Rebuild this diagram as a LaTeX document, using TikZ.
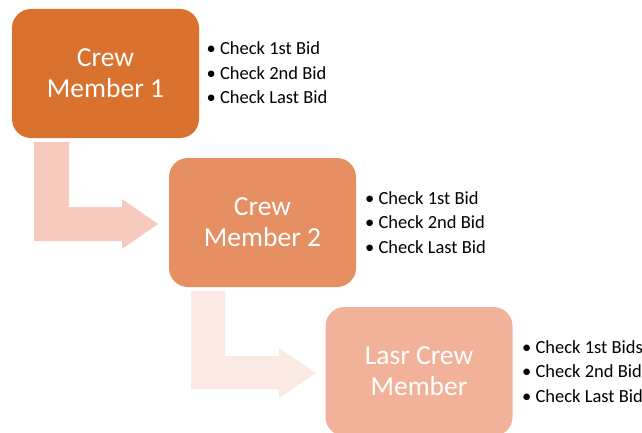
\documentclass[tikz,border=0pt]{standalone}
\usepackage{fontspec}
\setmainfont{Carlito}
\definecolor{stepA}{HTML}{D9722F}
\definecolor{stepB}{HTML}{E68F62}
\definecolor{stepC}{HTML}{F2B29A}
\definecolor{flowA}{HTML}{F6CBBD}
\definecolor{flowB}{HTML}{FBE9E3}
\tikzset{
  member/.style={rounded corners=19pt, minimum width=187pt, minimum height=129pt,
    inner sep=0pt, align=center, text=white,
    font=\fontsize{27.5}{31}\selectfont},
  checklist/.style={anchor=west, inner sep=0pt, align=left,
    font=\fontsize{18.5}{24.5}\selectfont},
}
\begin{document}
\begin{tikzpicture}[x=1pt,y=-1pt]
\useasboundingbox (0,0) rectangle (642,433);

% bent arrows between the stages
\fill[flowA] (34,142) -- (69,142) -- (69,207) -- (122,207) -- (122,199)
  -- (158,224) -- (122,249) -- (122,241) -- (34,241) -- cycle;
\fill[flowB] (191,291) -- (225,291) -- (225,356) -- (279,356) -- (279,348)
  -- (316,373) -- (279,398) -- (279,389) -- (191,389) -- cycle;

% stage boxes
\node[member, fill=stepA] (m1) at (105.5,73.5) {Crew\\Member 1};
\node[member, fill=stepB] (m2) at (262.5,222.5) {Crew\\Member 2};
\node[member, fill=stepC] (m3) at (419,371.5) {Lasr Crew\\Member};

% checklists beside each box
\node[checklist] (c1) at (206.5,73) {• Check 1st Bid\\• Check 2nd Bid\\• Check Last Bid};
\node[checklist] (c2) at (365,222.5) {• Check 1st Bid\\• Check 2nd Bid\\• Check Last Bid};
\node[checklist] (c3) at (522,371.5) {• Check 1st Bids\\• Check 2nd Bid\\• Check Last Bid};
\end{tikzpicture}
\end{document}
